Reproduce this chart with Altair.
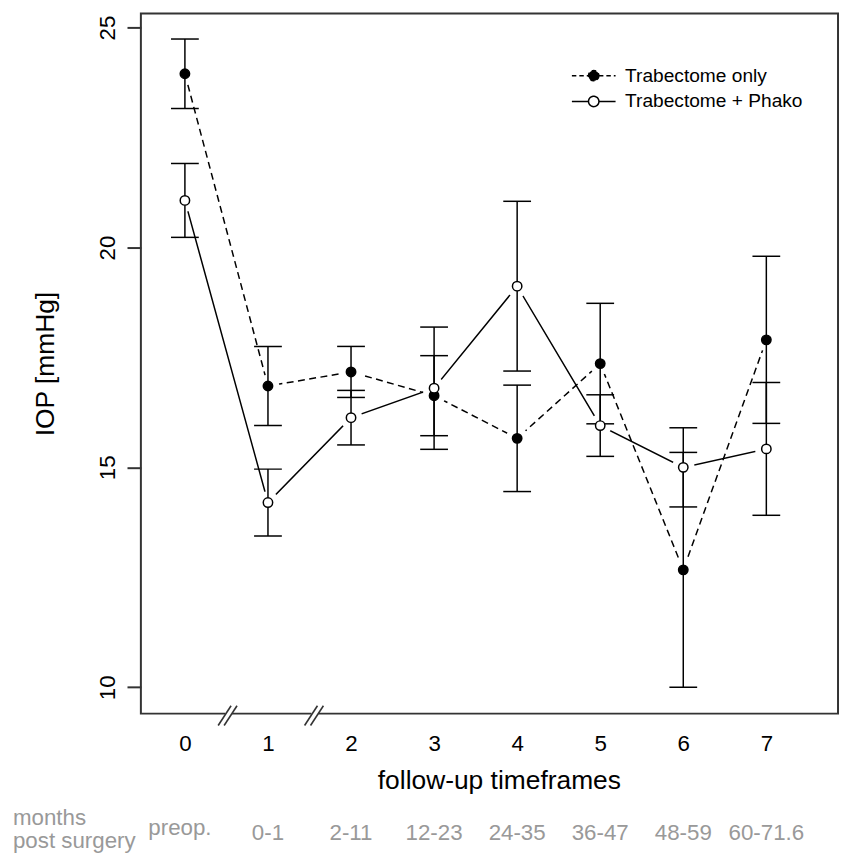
import altair as alt
import pandas as pd

# ---- data ----
timeframes = [0, 1, 2, 3, 4, 5, 6, 7]
month_labels = ["preop.", "0-1", "2-11", "12-23", "24-35", "36-47", "48-59", "60-71.6"]
series_names = ["Trabectome only", "Trabectome + Phako"]

only_mean = [23.95, 16.85, 17.17, 16.63, 15.66, 17.36, 12.67, 17.90]
only_err = [0.79, 0.90, 0.58, 0.91, 1.21, 1.37, 2.67, 1.90]

phako_mean = [21.07, 14.20, 16.13, 16.80, 19.12, 15.95, 15.00, 15.42]
phako_err = [0.84, 0.76, 0.62, 1.39, 1.93, 0.70, 0.90, 1.51]

break_positions = [0.52, 1.56]
y_ticks = [10, 15, 20, 25]

FONT = "Liberation Sans"
W, H = 703, 706

rows = []
for x, m, e in zip(timeframes, only_mean, only_err):
    rows.append(dict(x=x, mean=m, lo=m - e, hi=m + e, series=series_names[0], fillc="black"))
for x, m, e in zip(timeframes, phako_mean, phako_err):
    rows.append(dict(x=x, mean=m, lo=m - e, hi=m + e, series=series_names[1], fillc="white"))
df = pd.DataFrame(rows)

labels_df = pd.DataFrame({"x": timeframes, "label": month_labels})
breaks_df = pd.DataFrame({"brk": break_positions})
legend_df = pd.DataFrame({"series": series_names})

xs = alt.Scale(domain=[-0.53, 7.863], nice=False, zero=False)
ys = alt.Scale(domain=[9.40, 25.32], nice=False, zero=False)

x_axis = alt.Axis(
    values=timeframes, format="d", ticks=False, tickSize=0, domain=False, grid=False,
    labelPadding=37, labelBaseline="alphabetic", labelFontSize=22.5, labelColor="black",
    labelFont=FONT, title="follow-up timeframes", titleFont=FONT, titleFontSize=26.6,
    titleFontWeight="normal", titleColor="black", titleX=361, titleY=76,
    titleBaseline="alphabetic", titleAlign="center",
)
y_axis = alt.Axis(
    values=y_ticks, domain=False, grid=False, tickSize=14, tickWidth=2, tickColor="#333",
    labelAngle=270, labelAlign="center", labelBaseline="alphabetic", labelPadding=13,
    labelFontSize=22.5, labelColor="black", labelFont=FONT,
    title="IOP [mmHg]", titleFont=FONT, titleFontSize=26.6, titleFontWeight="normal",
    titleColor="black", titleAngle=270, titleX=-88, titleY=353,
    titleAlign="center", titleBaseline="alphabetic",
)

X = alt.X("x:Q", scale=xs, axis=x_axis)
Y = alt.Y("mean:Q", scale=ys, axis=y_axis)

base = alt.Chart(df)

line_only = base.transform_filter(alt.datum.series == series_names[0]).mark_line(
    color="black", strokeWidth=1.5, strokeDash=[7, 4.5]
).encode(x=X, y=Y)
line_phako = base.transform_filter(alt.datum.series == series_names[1]).mark_line(
    color="black", strokeWidth=1.5
).encode(x=X, y=Y)

halo = base.mark_circle(color="white", size=520, opacity=1).encode(x=X, y=Y)

err_rule = base.mark_rule(color="black", strokeWidth=1.5).encode(
    x=X, y=alt.Y("lo:Q", scale=ys), y2="hi:Q"
)
cap_lo = base.mark_tick(orient="horizontal", size=28, thickness=1.5, color="black", opacity=1).encode(
    x=X, y=alt.Y("lo:Q", scale=ys)
)
cap_hi = base.mark_tick(orient="horizontal", size=28, thickness=1.5, color="black", opacity=1).encode(
    x=X, y=alt.Y("hi:Q", scale=ys)
)

legend_path = (
    "M-4.2,0L-1,0M1,0L4.2,0"
    "M1,0A1,1,0,1,1,-1,0A1,1,0,1,1,1,0Z"
)
legend_layer = alt.Chart(legend_df).mark_point(
    clip=True, stroke="black", strokeWidth=1.5, opacity=1, size=110
).encode(
    x=alt.value(-3000),
    y=alt.value(-3000),
    fill=alt.Fill(
        "series:N",
        scale=alt.Scale(domain=series_names, range=["black", "white"]),
        legend=alt.Legend(
            title=None, orient="none", legendX=447, legendY=53, padding=0,
            labelFont=FONT, labelFontSize=19.3, labelColor="black", labelOffset=22,
            labelLimit=400, rowPadding=6, symbolSize=110, symbolStrokeWidth=1.5,
            symbolStrokeColor="black", symbolOpacity=1,
        ),
    ),
    shape=alt.Shape("series:N", scale=alt.Scale(domain=series_names, range=[legend_path, legend_path])),
    strokeDash=alt.StrokeDash("series:N", scale=alt.Scale(domain=series_names, range=[[4.5, 3], [1, 0]])),
)

points = base.mark_point(shape="circle", filled=True, stroke="black", strokeWidth=1.5, size=90, opacity=1).encode(
    x=X, y=Y, fill=alt.Fill("fillc:N", scale=None)
)

# axis break marks
brk_gap = alt.Chart(breaks_df).mark_rule(color="white", strokeWidth=5, xOffset=-3, x2Offset=4).encode(
    x=alt.X("brk:Q", scale=xs), x2="brk:Q", y=alt.value(H)
)
slash1 = alt.Chart(breaks_df).mark_rule(color="#333", strokeWidth=1.6, xOffset=-10, x2Offset=3, yOffset=10, y2Offset=-10).encode(
    x=alt.X("brk:Q", scale=xs), x2="brk:Q", y=alt.value(H + 2), y2=alt.value(H + 2)
)
slash2 = alt.Chart(breaks_df).mark_rule(color="#333", strokeWidth=1.6, xOffset=-4, x2Offset=9, yOffset=10, y2Offset=-10).encode(
    x=alt.X("brk:Q", scale=xs), x2="brk:Q", y=alt.value(H + 2), y2=alt.value(H + 2)
)

# months row below the axis
month_first = alt.Chart(labels_df).transform_filter(alt.datum.x == 0).mark_text(
    font=FONT, fontSize=22.5, color="#999999", align="center", baseline="alphabetic", dx=-5
).encode(x=alt.X("x:Q", scale=xs), y=alt.value(828), text="label:N")
month_rest = alt.Chart(labels_df).transform_filter(alt.datum.x > 0).mark_text(
    font=FONT, fontSize=22.5, color="#999999", align="center", baseline="alphabetic"
).encode(x=alt.X("x:Q", scale=xs), y=alt.value(833), text="label:N")

side1 = alt.Chart(legend_df.head(1)).mark_text(
    font=FONT, fontSize=22.5, color="#999999", align="left", baseline="alphabetic", text="months"
).encode(x=alt.value(-129), y=alt.value(818))
side2 = alt.Chart(legend_df.head(1)).mark_text(
    font=FONT, fontSize=22.5, color="#999999", align="left", baseline="alphabetic", text="post surgery"
).encode(x=alt.value(-129), y=alt.value(842))

chart = alt.layer(
    line_only, line_phako, halo, err_rule, cap_lo, cap_hi, legend_layer, points,
    brk_gap, slash1, slash2, month_first, month_rest, side1, side2,
).properties(
    width=W, height=H,
    autosize=alt.AutoSizeParams(type="none"),
    padding={"left": 134, "top": 2, "right": 2, "bottom": 140},
).configure(
    font=FONT, background="white"
).configure_view(
    stroke="#333", strokeWidth=2, fill="white"
)

chart.save("out.html", embed_options={"renderer": "svg", "actions": False})
